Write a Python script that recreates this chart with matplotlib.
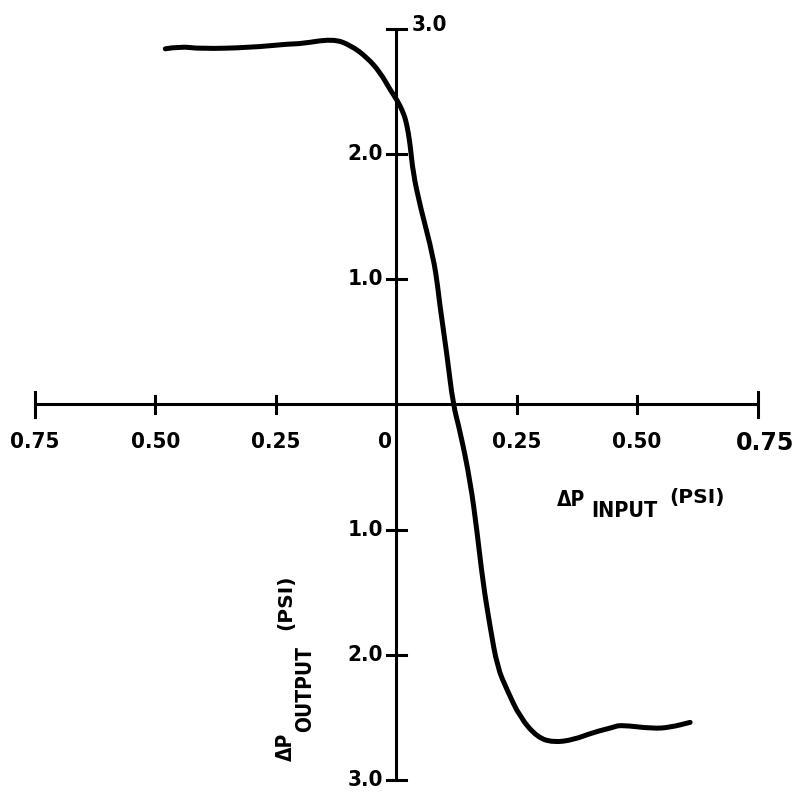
import matplotlib
matplotlib.use("Agg")
import matplotlib.pyplot as plt
from matplotlib.path import Path
from matplotlib.patches import PathPatch

# curve (psi)
dp_input = [-0.479, -0.448, -0.407, -0.303, -0.220, -0.199, -0.131, -0.095,
            -0.060, -0.033, -0.012, 0.002, 0.015, 0.022, 0.029, 0.035, 0.050,
            0.077, 0.087, 0.090, 0.106, 0.118, 0.133, 0.154, 0.168, 0.180,
            0.195, 0.210, 0.230, 0.257, 0.293, 0.326, 0.367, 0.409, 0.450,
            0.465, 0.533, 0.568, 0.610]
dp_output = [2.84, 2.86, 2.84, 2.85, 2.88, 2.88, 2.92, 2.87,
             2.77, 2.65, 2.51, 2.43, 2.33, 2.24, 2.08, 1.85, 1.58,
             1.18, 0.92, 0.81, 0.38, 0.0, -0.22, -0.62, -1.02, -1.42,
             -1.78, -2.10, -2.28, -2.50, -2.66, -2.70, -2.68, -2.62, -2.58,
             -2.56, -2.59, -2.58, -2.54]

x_ticks = [-0.75, -0.5, -0.25, 0.25, 0.5, 0.75]
x_tick_labels = ["0.75", "0.50", "0.25", "0.25", "0.50", "0.75"]
y_ticks = [-3.0, -2.0, -1.0, 1.0, 2.0, 3.0]
y_tick_labels = ["3.0", "2.0", "1.0", "1.0", "2.0", "3.0"]

fig = plt.figure(figsize=(8.01, 8.0), dpi=100)
ax = fig.add_axes([0, 0, 1, 1])
ax.set_xlim(-0.822, 0.840)
ax.set_ylim(-3.16, 3.23)
ax.axis("off")

font = dict(fontweight="bold", fontstretch="condensed", color="black")
lw = 2.2

# axes through the origin
ax.plot([-0.75, 0.75], [0, 0], color="black", lw=lw, solid_capstyle="butt")
ax.plot([0, 0], [-3.0, 3.0], color="black", lw=lw, solid_capstyle="butt")

# x ticks and labels
for xt, lab in zip(x_ticks, x_tick_labels):
    h = 0.10 if abs(xt) == 0.75 else 0.07
    ax.plot([xt, xt], [-h, h], color="black", lw=lw)
    if xt == 0.75:
        ax.text(xt + 0.015, -0.31, lab, ha="center", va="center",
                fontsize=17, fontweight="bold")
    else:
        ax.text(xt, -0.30, lab, ha="center", va="center", fontsize=16, **font)
ax.text(-0.023, -0.30, "0", ha="center", va="center", fontsize=16, **font)

# y ticks and labels
for yt, lab in zip(y_ticks, y_tick_labels):
    w = 0.02
    ax.plot([-w, w], [yt, yt], color="black", lw=lw)
    if yt == 3.0:
        ax.text(0.033, yt + 0.03, lab, ha="left", va="center", fontsize=16,
                **font)
    else:
        ax.text(-0.027, yt, lab, ha="right", va="center", fontsize=16, **font)

# the curve, drawn smooth through the read points
verts = [(dp_input[0], dp_output[0])]
codes = [Path.MOVETO]
for i in range(1, len(dp_input) - 1):
    mx = (dp_input[i] + dp_input[i + 1]) / 2
    my = (dp_output[i] + dp_output[i + 1]) / 2
    verts += [(dp_input[i], dp_output[i]), (mx, my)]
    codes += [Path.CURVE3, Path.CURVE3]
verts.append((dp_input[-1], dp_output[-1]))
codes.append(Path.LINETO)
ax.add_patch(PathPatch(Path(verts, codes), facecolor="none",
                       edgecolor="black", lw=3.6, capstyle="round",
                       joinstyle="round"))

# axis labels
ax.text(0.334, -0.76, "ΔP", ha="left", va="center", fontsize=15, **font)
ax.text(0.405, -0.85, "INPUT", ha="left", va="center", fontsize=15.5, **font)
ax.text(0.566, -0.74, "(PSI)", ha="left", va="center", fontsize=14.5,
        fontweight="bold")

ax.text(-0.228, -2.85, "ΔP", ha="center", va="bottom", fontsize=15,
        rotation=90, **font)
ax.text(-0.189, -2.62, "OUTPUT", ha="center", va="bottom", fontsize=15,
        rotation=90, **font)
ax.text(-0.230, -1.80, "(PSI)", ha="center", va="bottom", fontsize=14.5,
        rotation=90, fontweight="bold")

fig.savefig("out.png", dpi=100, facecolor="white")
